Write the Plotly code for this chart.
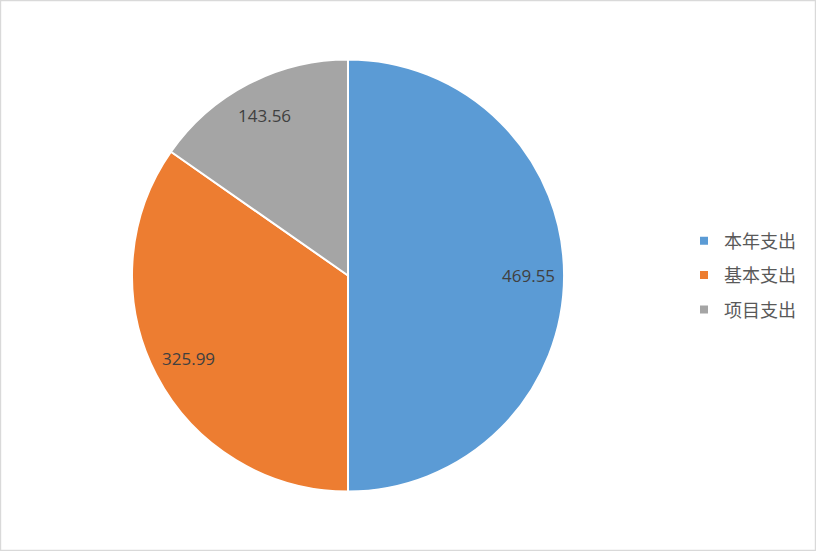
import math
import plotly.graph_objects as go

categories = ["本年支出", "基本支出", "项目支出"]
values = [469.55, 325.99, 143.56]
colors = ["#5B9BD5", "#ED7D31", "#A5A5A5"]
value_labels = ["469.55", "325.99", "143.56"]

W, H = 816, 551
cx_px, cy_px, r_px = 348, 275.5, 216
dom_x = [(cx_px - r_px) / W, (cx_px + r_px) / W]
dom_y = [1 - (cy_px + r_px) / H, 1 - (cy_px - r_px) / H]

fig = go.Figure()
fig.add_trace(go.Pie(
    labels=categories, values=values, sort=False, direction="clockwise",
    rotation=0, marker=dict(colors=colors, line=dict(color="white", width=2)),
    textinfo="none", hoverinfo="label+value", showlegend=False,
    domain=dict(x=dom_x, y=dom_y),
))

# legend entries
for i, (name, c) in enumerate(zip(categories, colors)):
    fig.add_trace(go.Scatter(
        x=[None], y=[None], mode="markers", name=name,
        marker=dict(symbol="square", size=8, color=c),
        legendgroup=f"g{i}", showlegend=True,
    ))

# value labels placed near the outer edge inside each slice
total = sum(values)
cum = 0.0
pcx = (dom_x[0] + dom_x[1]) / 2
pcy = (dom_y[0] + dom_y[1]) / 2
rx = (dom_x[1] - dom_x[0]) / 2
ry = (dom_y[1] - dom_y[0]) / 2
for v, lab in zip(values, value_labels):
    mid = (cum + v / 2) / total
    cum += v
    th = 2 * math.pi * mid
    k = 0.835
    fig.add_annotation(
        x=pcx + k * rx * math.sin(th), y=pcy + k * ry * math.cos(th),
        xref="paper", yref="paper", text=lab, showarrow=False,
        font=dict(family="Open Sans, Noto Sans, sans-serif", size=17, color="#404040"),
        xanchor="center", yanchor="middle",
    )

fig.add_shape(type="rect", xref="paper", yref="paper",
              x0=0.6 / W, x1=1 - 0.6 / W, y0=0.6 / H, y1=1 - 0.6 / H,
              line=dict(color="#D9D9D9", width=1.2), fillcolor="rgba(0,0,0,0)")

fig.update_layout(
    width=W, height=H,
    margin=dict(l=0, r=0, t=0, b=0),
    paper_bgcolor="white", plot_bgcolor="white",
    xaxis=dict(visible=False), yaxis=dict(visible=False),
    legend=dict(
        x=684 / W, y=0.5, xanchor="left", yanchor="middle",
        font=dict(family="Noto Sans CJK SC, sans-serif", size=18, color="#595959"),
        tracegroupgap=8, itemwidth=30, bgcolor="rgba(0,0,0,0)",
    ),
)

fig.write_html(
    "out.html",
    config={"displayModeBar": False},
    post_script="document.body.style.margin='0';document.body.style.overflow='hidden';",
)
